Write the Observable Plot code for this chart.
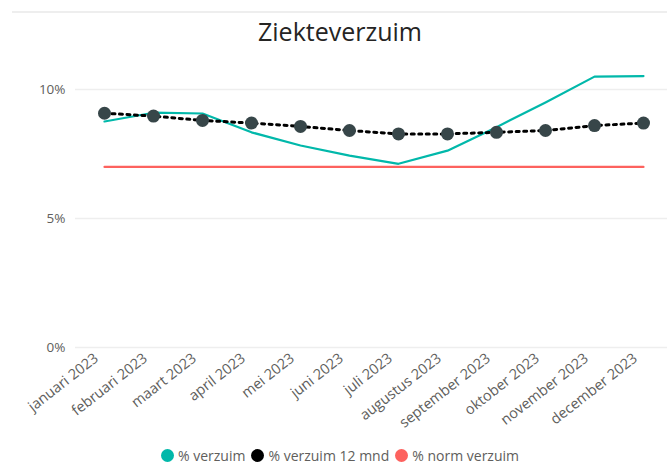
<!DOCTYPE html>
<html><head><meta charset="utf-8">
<script src="https://cdn.jsdelivr.net/npm/d3@7"></script>
<script src="https://cdn.jsdelivr.net/npm/@observablehq/plot@0.6"></script>
<style>
body{margin:0;background:#fff;font-family:"Open Sans",sans-serif;}
#wrap{position:relative;width:667px;height:464px;overflow:hidden;}
#topline{position:absolute;left:12px;right:0;top:11px;height:2px;background:#eeeeee;}
#title{position:absolute;left:0;width:680px;top:14px;text-align:center;font-size:25px;color:#252423;}
#chart{position:absolute;left:0;top:0;}
#legend{position:absolute;left:0;width:680px;top:446px;text-align:center;font-size:14px;color:#605E5C;white-space:nowrap;}
.it{display:inline-flex;align-items:center;margin:0 3px;}
.dot{display:inline-block;width:13px;height:13px;border-radius:50%;margin-right:4px;}
</style></head>
<body><div id="wrap"><div id="topline"></div><div id="title">Ziekteverzuim</div><div id="chart"></div><div id="legend"></div></div>
<script>
const months = ["januari 2023","februari 2023","maart 2023","april 2023","mei 2023","juni 2023","juli 2023","augustus 2023","september 2023","oktober 2023","november 2023","december 2023"];
const verzuim = [8.76, 9.1, 9.07, 8.34, 7.83, 7.44, 7.12, 7.63, 8.54, 9.5, 10.5, 10.52];
const verzuim12 = [9.08, 8.97, 8.8, 8.7, 8.57, 8.41, 8.28, 8.28, 8.34, 8.41, 8.6, 8.7];
const norm = [7, 7, 7, 7, 7, 7, 7, 7, 7, 7, 7, 7];
const yTicks = [0, 5, 10];
const seriesNames = ["% verzuim", "% verzuim 12 mnd", "% norm verzuim"];
const seriesColors = ["#01B8AA", "#000000", "#FD625E"];

const rows = months.map((m, i) => ({m, v: verzuim[i], v12: verzuim12[i], n: norm[i]}));

const chart = Plot.plot({
  width: 667, height: 440,
  marginLeft: 99, marginRight: 19, marginTop: 89, marginBottom: 93,
  style: {fontFamily: "'Open Sans', sans-serif", fontSize: "12px", color: "#605E5C", background: "transparent"},
  x: {type: "point", domain: months, padding: 0, label: null},
  y: {domain: [0, 10], label: null},
  marks: [
    Plot.ruleY(yTicks, {stroke: "#eeeeee", strokeWidth: 1.3, insetLeft: -24, insetRight: -19}),
    Plot.axisY({ticks: yTicks, tickSize: 0, tickPadding: 34, tickFormat: d => d + "%", fill: "#605E5C", fontSize: 13.5}),
    Plot.axisX({tickSize: 0, tickPadding: 9, tickRotate: -38, dx: -8, fill: "#605E5C", fontSize: 14.5}),
    Plot.line(rows, {x: "m", y: "n", stroke: seriesColors[2], strokeWidth: 2.2}),
    Plot.line(rows, {x: "m", y: "v", stroke: seriesColors[0], strokeWidth: 2.2}),
    Plot.line(rows, {x: "m", y: "v12", stroke: seriesColors[1], strokeWidth: 3, strokeDasharray: "3,4.5"}),
    Plot.dot(rows, {x: "m", y: "v12", r: 6.5, fill: "#374649", stroke: "none"})
  ]
});
document.getElementById("chart").appendChild(chart);

const lg = document.getElementById("legend");
seriesNames.forEach((n, i) => {
  const s = document.createElement("span");
  s.className = "it";
  s.innerHTML = `<span class="dot" style="background:${seriesColors[i]}"></span>${n}`;
  lg.appendChild(s);
});
</script></body></html>
